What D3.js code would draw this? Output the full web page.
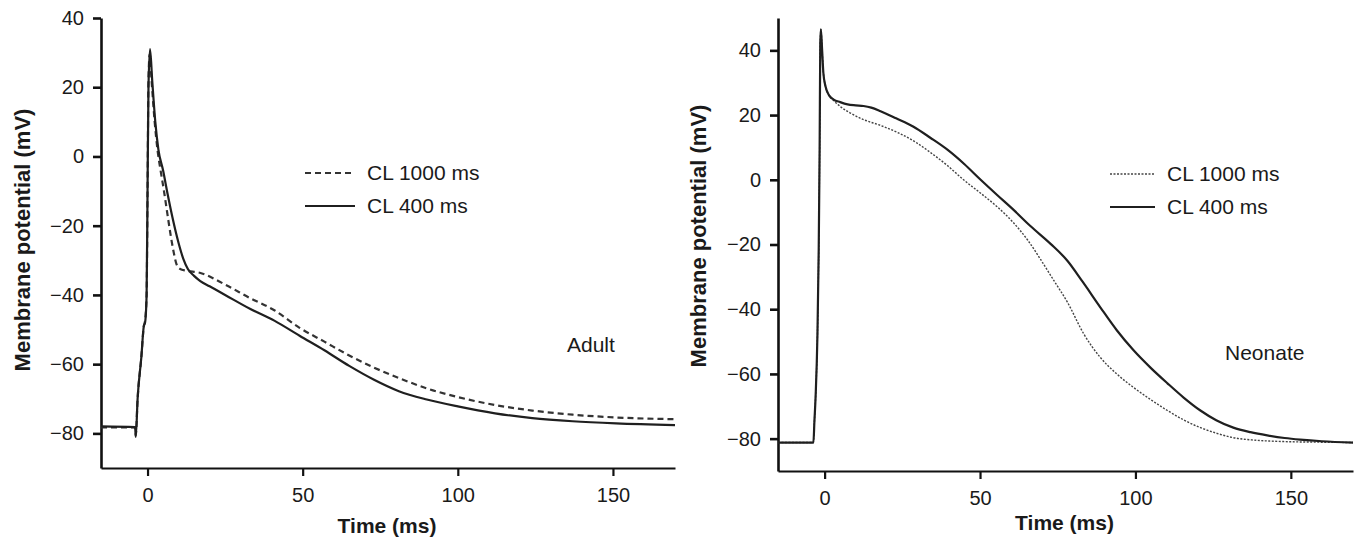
<!DOCTYPE html>
<html>
<head>
<meta charset="utf-8">
<script src="https://cdn.jsdelivr.net/npm/d3@7"></script>
<style>
  html, body { margin: 0; padding: 0; background: #fff; }
  svg { display: block; font-family: 'Liberation Sans', Arial, Helvetica, sans-serif; }
</style>
</head>
<body>
<svg id="chart" width="1361" height="544"></svg>
<script>
// time (ms) / membrane potential (mV) pairs
const adultCL1000 = [
    [-15, -78.3], [-4, -78.3], [-3.8, -80.5], [-3.2, -70], [-2, -58], [-1.2, -49], [-0.8, -47.5],
    [-0.3, -40], [0, -10], [0.3, 22], [0.7, 29.5], [1.3, 22], [2.3, 10], [3.2, 2], [4.2, -4],
    [5.3, -10], [6.3, -16], [7.5, -23], [8.5, -28], [9.3, -31], [10.5, -32.5], [12.5, -33],
    [16.8, -33.6], [25, -37], [33, -40.9], [41, -44.5], [49, -49.5], [57, -53.5], [65, -57.5],
    [73, -61], [81, -64], [90, -67], [100, -69.5], [112, -71.8], [124, -73.4], [137, -74.6],
    [151, -75.4], [170, -75.9]
];
const adultCL400 = [
    [-15, -78], [-4, -78.2], [-3.8, -81], [-3.2, -70], [-2, -58], [-1.2, -49], [-0.8, -48],
    [-0.3, -40], [0, -10], [0.3, 20], [0.8, 31], [1.5, 22], [2.5, 10], [3.5, 2], [5, -4],
    [6.5, -11], [8, -17.5], [10, -25], [11.5, -29.5], [13, -32.5], [15, -34.5], [17, -36],
    [20, -37.5], [25, -40], [33, -44], [41, -47.5], [49, -51.8], [57, -56], [65, -60.5],
    [73, -64.5], [81, -67.8], [90, -70.2], [100, -72.2], [112, -74.2], [124, -75.6],
    [137, -76.5], [151, -77.1], [170, -77.6]
];
const neonateCL1000 = [
    [-15, -81.2], [-3.6, -81.2], [-3.3, -75], [-2.9, -67], [-2.3, -47.4], [-1.9, -21.7],
    [-1.6, 10], [-1.4, 42], [-1.2, 46.5], [-0.8, 40], [-0.4, 33], [0.3, 28.8], [1.5, 26],
    [2.9, 24.5], [5.1, 22.6], [8.5, 20.5], [12.5, 18.6], [18, 16.8], [23.5, 14.6], [29, 11.8],
    [34.1, 8.4], [39.5, 4.4], [44.7, 0], [50, -4], [55.6, -8.4], [60.5, -13], [65.3, -18.6],
    [70.4, -26], [74, -31.5], [78.1, -37.8], [83.3, -47.5], [88.7, -54.9], [94, -60],
    [99.4, -64.2], [105, -68], [110.3, -71.3], [115.5, -74.2], [120.9, -76.6], [126, -78.3],
    [131.5, -79.7], [139, -80.5], [147.6, -80.9], [160, -81.1], [170, -81.2]
];
const neonateCL400 = [
    [-15, -81.2], [-3.6, -81.2], [-3.3, -75], [-2.9, -67], [-2.3, -47.4], [-1.9, -21.7],
    [-1.6, 10], [-1.4, 42], [-1.2, 46.5], [-0.8, 40], [-0.4, 33], [0.3, 28.8], [1.5, 26],
    [2.9, 24.8], [5, 24], [7.4, 23.3], [10, 23], [12.5, 22.8], [15, 22.3], [18, 21.2],
    [23, 19], [28.6, 16.4], [34, 13], [39.5, 9.3], [45, 4.8], [50.2, 0], [55.5, -4.7],
    [60.8, -9.3], [66.2, -14.3], [72.7, -19.8], [78.1, -25], [83, -31.5], [88.7, -39.4],
    [94, -46.5], [99.4, -52.7], [105, -58.2], [110.3, -62.9], [115.5, -67.3], [120.9, -71.3],
    [126, -74.3], [131.5, -76.6], [137, -78], [142.4, -79], [148, -79.8], [153, -80.3],
    [160, -80.8], [170, -81.2]
];

const xTicks = [0, 50, 100, 150];
const yTicks = [-80, -60, -40, -20, 0, 20, 40];
const legendLabels = ['CL 1000 ms', 'CL 400 ms'];
const xTitle = 'Time (ms)';
const yTitle = 'Membrane potential (mV)';

const svg = d3.select('#chart');

function drawPanel(p) {
    const x = d3.scaleLinear().domain([-15, 170]).range([p.left, p.right]);
    const y = d3.scaleLinear().domain(p.yDomain).range([p.bottom, p.top]);
    const g = svg.append('g');

    const xAxis = g.append('g')
        .attr('transform', 'translate(0,' + p.bottom + ')')
        .call(d3.axisBottom(x).tickValues(xTicks).tickSize(8).tickSizeOuter(0).tickPadding(12));
    const yAxis = g.append('g')
        .attr('transform', 'translate(' + p.left + ',0)')
        .call(d3.axisLeft(y).tickValues(yTicks).tickSize(8).tickSizeOuter(0).tickPadding(9));
    xAxis.selectAll('.domain, .tick line').attr('stroke', '#111').attr('stroke-width', 2.2);
    yAxis.selectAll('.domain, .tick line').attr('stroke', '#111').attr('stroke-width', 2.6);
    [xAxis, yAxis].forEach(a => {
        a.selectAll('.tick text')
            .attr('fill', '#1a1a1a')
            .style('font-size', '20px')
            .style('font-family', "'Liberation Sans', Arial, sans-serif");
    });

    g.append('text')
        .attr('x', (p.left + p.right) / 2 + p.xTitleShift)
        .attr('y', p.xTitleY)
        .attr('text-anchor', 'middle')
        .style('font-size', '21px')
        .style('font-weight', 'bold')
        .attr('fill', '#1a1a1a')
        .text(xTitle);
    g.append('text')
        .attr('transform', 'translate(' + p.yTitleX + ',' + p.yTitleY + ') rotate(-90)')
        .attr('text-anchor', 'middle')
        .style('font-size', '22px')
        .style('font-weight', 'bold')
        .attr('fill', '#1a1a1a')
        .text(yTitle);

    const line = d3.line()
        .x(d => x(d[0]))
        .y(d => y(d[1]))
        .curve(d3.curveMonotoneX);

    g.append('path')
        .datum(p.dashed)
        .attr('fill', 'none')
        .attr('stroke', p.dashStyle.color)
        .attr('stroke-width', p.dashStyle.width)
        .attr('stroke-dasharray', p.dashStyle.dash)
        .attr('d', line);
    g.append('path')
        .datum(p.solid)
        .attr('fill', 'none')
        .attr('stroke', '#1f1f1f')
        .attr('stroke-width', p.solidWidth)
        .attr('stroke-linejoin', 'round')
        .attr('d', line);

    // legend
    const lg = g.append('g');
    lg.append('line')
        .attr('x1', p.legX).attr('x2', p.legX + p.legLen)
        .attr('y1', p.legY).attr('y2', p.legY)
        .attr('stroke', p.dashStyle.color)
        .attr('stroke-width', p.dashStyle.width)
        .attr('stroke-dasharray', p.dashStyle.dash);
    lg.append('line')
        .attr('x1', p.legX).attr('x2', p.legX + p.legLen)
        .attr('y1', p.legY + 33).attr('y2', p.legY + 33)
        .attr('stroke', '#1f1f1f')
        .attr('stroke-width', p.solidWidth);
    legendLabels.forEach((t, i) => {
        lg.append('text')
            .attr('x', p.legX + p.legLen + 12)
            .attr('y', p.legY + i * 33 + 7)
            .style('font-size', '21px')
            .attr('fill', '#1a1a1a')
            .text(t);
    });

    g.append('text')
        .attr('x', p.tagX)
        .attr('y', p.tagY)
        .style('font-size', '21px')
        .attr('fill', '#1a1a1a')
        .text(p.tag);
}

drawPanel({
    left: 101, right: 675, top: 18, bottom: 468, yDomain: [-90, 40],
    dashed: adultCL1000, solid: adultCL400,
    dashStyle: { color: '#333', width: 2.2, dash: '6,4' }, solidWidth: 2.2,
    xTitleShift: -1, xTitleY: 533, yTitleX: 30, yTitleY: 240,
    legX: 305, legY: 173, legLen: 50,
    tag: 'Adult', tagX: 567, tagY: 352
});
drawPanel({
    left: 778, right: 1353, top: 18, bottom: 471, yDomain: [-90, 50],
    dashed: neonateCL1000, solid: neonateCL400,
    dashStyle: { color: '#444', width: 1.4, dash: '2,1.5' }, solidWidth: 2.2,
    xTitleShift: -1, xTitleY: 530, yTitleX: 706, yTitleY: 236,
    legX: 1110, legY: 174, legLen: 45,
    tag: 'Neonate', tagX: 1225, tagY: 360
});
</script>
</body>
</html>
